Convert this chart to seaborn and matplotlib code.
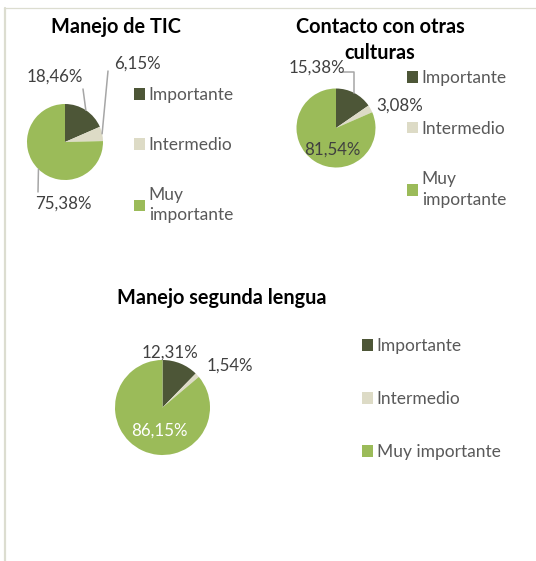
import numpy as np
import matplotlib
matplotlib.use("Agg")
import matplotlib.pyplot as plt
import seaborn as sns
from matplotlib.patches import Patch
from matplotlib.lines import Line2D

# ---------------- data ----------------
categories = ["Importante", "Intermedio", "Muy importante"]
tic_values = [18.46, 6.15, 75.38]
cultures_values = [15.38, 3.08, 81.54]
language_values = [12.31, 1.54, 86.15]
titles = ["Manejo de TIC", "Contacto con otras\nculturas", "Manejo segunda lengua"]

sns.set_theme(style="white")
plt.rcParams['font.family'] = ['Lato', 'DejaVu Sans']
colors = ["#4d5637", "#dddbc6", "#9bbb59"]
LABEL_C = "#404040"
LEG_C = "#595959"
LINE_C = "#a6a6a6"
TITLE_FS = 14.3
LABEL_FS = 12.2
LEG_FS = 12.5

W, H = 536, 561
fig = plt.figure(figsize=(W / 100, H / 100), dpi=100)
fig.patch.set_facecolor("white")


def fx(x):
    return x / W


def fy(y):
    return 1 - y / H


def fmt(v):
    return f"{v:.2f}%".replace(".", ",")


def draw_pie(values, cx, cy, r):
    ax = fig.add_axes([fx(cx - r), fy(cy + r), 2 * r / W, 2 * r / H])
    wedges, _ = ax.pie(values, colors=colors, startangle=90, counterclock=False,
                       radius=1, wedgeprops=dict(linewidth=0))
    ax.set_xlim(-1, 1)
    ax.set_ylim(-1, 1)
    ax.axis("off")
    return ax, wedges


def mid(w, rr=1.0):
    a = np.deg2rad((w.theta1 + w.theta2) / 2)
    return rr * np.cos(a), rr * np.sin(a)


def leader(ax, w, x0, y0, conn="arc3"):
    ax.annotate("", xy=mid(w), xycoords="data",
                xytext=(fx(x0), fy(y0)), textcoords="figure fraction",
                arrowprops=dict(arrowstyle="-", color=LINE_C, lw=1.1,
                                shrinkA=0, shrinkB=0, connectionstyle=conn),
                annotation_clip=False)


def label(x, y, v, color=LABEL_C):
    fig.text(fx(x), fy(y), fmt(v), ha="center", va="center",
             fontsize=LABEL_FS, color=color)


def title(x, baselines, text):
    for line, yb in zip(text.split("\n"), baselines):
        fig.text(fx(x), fy(yb), line, ha="center", va="baseline",
                 fontsize=TITLE_FS, fontweight="bold", color="black")


def legend(ax, x, y, labels, spacing):
    handles = [Patch(facecolor=c, edgecolor="none", label=l) for c, l in zip(colors, labels)]
    leg = ax.legend(handles=handles, loc="upper left", bbox_to_anchor=(fx(x), fy(y)),
                    bbox_transform=fig.transFigure, frameon=False, fontsize=LEG_FS,
                    handlelength=0.65, handleheight=0.65, handletextpad=0.2,
                    labelspacing=spacing, borderpad=0, borderaxespad=0,
                    labelcolor=LEG_C)
    for t in leg.get_texts():
        t.set_linespacing(1.35)


# ---------------- chart 1 ----------------
ax1, w1 = draw_pie(tic_values, 65, 142, 38)
title(116, [33], titles[0])
leader(ax1, w1[0], 83, 89)
leader(ax1, w1[1], 108, 71)
leader(ax1, w1[2], 38, 192)
label(55, 77, tic_values[0])
label(137, 64, tic_values[1])
label(63, 204, tic_values[2])
legend(ax1, 134, 87, ["Importante", "Intermedio", "Muy\nimportante"], 1.95)

# ---------------- chart 2 ----------------
ax2, w2 = draw_pie(cultures_values, 336, 128, 39.5)
title(380, [33, 59], titles[1])
leader(ax2, w2[0], 343, 72, conn="angle,angleA=0,angleB=90,rad=0")
label(316.5, 68, cultures_values[0])
label(399.5, 106, cultures_values[1])
label(332.5, 150, cultures_values[2])
legend(ax2, 407, 70, ["Importante", "Intermedio", "Muy\nimportante"], 2.0)

# ---------------- chart 3 ----------------
ax3, w3 = draw_pie(language_values, 162.5, 407.5, 47.5)
title(222, [304], titles[2])
label(170, 353, language_values[0])
label(229.5, 366, language_values[1])
label(159.5, 431, language_values[2], color="white")
legend(ax3, 362, 338, categories, 2.14)

# ---------------- frame lines ----------------
fig.add_artist(Line2D([fx(4), fx(536)], [fy(7.5), fy(7.5)], transform=fig.transFigure,
                      color="#dcddd0", lw=0.9))
fig.add_artist(Line2D([fx(5), fx(5)], [fy(7.5), fy(561)], transform=fig.transFigure,
                      color="#dcddd0", lw=1.6))

fig.savefig("out.png", dpi=100, facecolor="white")
